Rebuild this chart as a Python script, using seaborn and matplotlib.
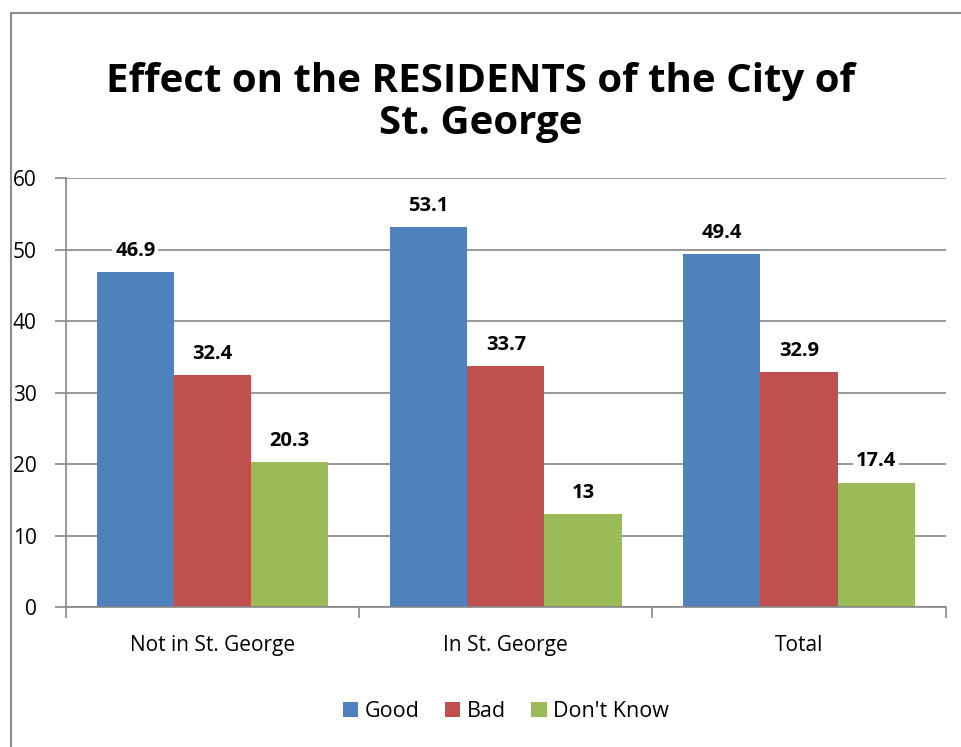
import numpy as np
import pandas as pd
import matplotlib.pyplot as plt
from matplotlib.patches import Rectangle
import seaborn as sns

# ── Data ─────────────────────────────────────────────────────────────────
categories = ["Not in St. George", "In St. George", "Total"]
series = ["Good", "Bad", "Don't Know"]
good = [46.9, 53.1, 49.4]
bad = [32.4, 33.7, 32.9]
dont_know = [20.3, 13, 17.4]
colors = ["#4F81BD", "#C0504D", "#9BBB59"]

df = pd.DataFrame({
    "Category": categories * 3,
    "Answer": [s for s in series for _ in categories],
    "Value": good + bad + dont_know,
})

sns.set_theme(style="white")
plt.rcParams["font.family"] = ["Open Sans", "DejaVu Sans"]
plt.rcParams["text.color"] = "black"
plt.rcParams["xtick.color"] = "black"
plt.rcParams["ytick.color"] = "black"

fig = plt.figure(figsize=(9.61, 7.47), dpi=100)
ax = fig.add_axes([0.0687, 0.1874, 0.9153, 0.5743])

sns.barplot(data=df, x="Category", y="Value", hue="Answer", order=categories,
            hue_order=series, palette=colors, width=0.79, saturation=1,
            ax=ax, edgecolor="none", zorder=2)

for c in ax.containers:
    ax.bar_label(c, labels=[f"{v:g}" for v in c.datavalues], padding=8,
                 fontsize=14.5, fontweight="bold", color="black",
                 bbox=dict(facecolor="white", edgecolor="none", pad=2))

ax.set_ylim(0, 60)
ax.set_yticks(range(0, 61, 10))
ax.set_xlim(-0.5, 2.5)
ax.yaxis.grid(True, color="#868686", lw=1.2, zorder=0)
ax.set_axisbelow(True)
for s in ["top", "right"]:
    ax.spines[s].set_visible(False)
for s in ["left", "bottom"]:
    ax.spines[s].set_color("#868686")
    ax.spines[s].set_linewidth(1.2)

ax.set_xlabel(""); ax.set_ylabel("")
ax.tick_params(axis="y", left=True, length=8, width=1.2, color="#868686",
               labelcolor="black", labelsize=15, pad=13)
ax.set_xticks([0, 1, 2])
ax.set_xticklabels(categories)
ax.set_xticks([-0.5, 0.5, 1.5, 2.5], minor=True)
ax.tick_params(axis="x", which="major", length=0, labelsize=15, pad=20,
               labelcolor="black")
ax.tick_params(axis="x", which="minor", bottom=True, length=8, width=1.2,
               color="#868686")

ax.legend(loc="center", bbox_to_anchor=(0.5, -0.244), ncol=3, frameon=False,
          fontsize=15.5, handlelength=0.7, handleheight=0.7, handletextpad=0.3,
          columnspacing=1.2)

fig.text(0.5, 0.863, "Effect on the RESIDENTS of the City of\nSt. George",
         ha="center", va="center", fontsize=29, fontweight="bold",
         linespacing=1.12)

# outer chart frame (cropped at right and bottom)
fig.patches.append(Rectangle((11 / 961, -0.1), 1.2, 1.1 - 13 / 747,
                             transform=fig.transFigure, fill=False,
                             edgecolor="#8c8c8c", lw=1.5))

fig.savefig("out.png", dpi=100)
